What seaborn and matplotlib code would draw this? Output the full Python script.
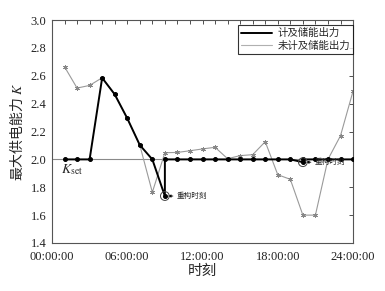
import matplotlib
matplotlib.use("Agg")
import matplotlib.pyplot as plt
from matplotlib.lines import Line2D
import seaborn as sns
import pandas as pd

# ---- data ----
hours_with = [1, 2, 3, 4, 5, 6, 7, 8, 9, 9, 10, 11, 12, 13, 14, 15, 16, 17, 18, 19, 20, 20, 21, 22, 23, 24]
k_with = [2.0, 2.0, 2.0, 2.585, 2.467, 2.295, 2.103, 2.0, 1.737, 2.0, 2.0, 2.0, 2.0, 2.0, 2.0,
          2.0, 2.0, 2.0, 2.0, 2.0, 1.98, 2.0, 2.0, 2.0, 2.0, 2.0]
hours_without = [1, 2, 3, 4, 5, 6, 7, 8, 9, 10, 11, 12, 13, 14, 15, 16, 17, 18, 19, 20, 21, 22, 23, 24]
k_without = [2.665, 2.512, 2.531, 2.586, 2.467, 2.295, 2.103, 1.764, 2.048, 2.05, 2.062, 2.075,
             2.087, 2.005, 2.027, 2.034, 2.127, 1.89, 1.857, 1.60, 1.60, 2.0, 2.17, 2.49]
k_set = 2.0
reconfig_hours = [9, 20]
reconfig_k = [1.737, 1.98]
xtick_hours = [0, 6, 12, 18, 24]
xtick_labels = ["00:00:00", "06:00:00", "12:00:00", "18:00:00", "24:00:00"]
legend_labels = ["计及储能出力", "未计及储能出力"]

sns.set_theme(style="white")
plt.rcParams['font.family'] = ['Liberation Serif', 'Noto Sans CJK SC', 'DejaVu Sans']
plt.rcParams['mathtext.fontset'] = 'stix'

fig = plt.figure(figsize=(3.85, 2.91), dpi=100)
ax = fig.add_axes([0.135, 0.165, 0.782, 0.766])

df_with = pd.DataFrame({"h": hours_with, "k": k_with})
df_without = pd.DataFrame({"h": hours_without, "k": k_without})
df_rc = pd.DataFrame({"h": reconfig_hours, "k": reconfig_k})

# K_set reference line
ax.axhline(k_set, color="#8a8a8a", lw=0.8, zorder=1)

sns.lineplot(data=df_without, x="h", y="k", ax=ax, estimator=None, sort=False,
             color="#9a9a9a", lw=0.8, marker=(6, 2, 0), markersize=3.5,
             markeredgecolor="#888888", markeredgewidth=0.6, zorder=2)
sns.lineplot(data=df_with, x="h", y="k", ax=ax, estimator=None, sort=False,
             color="black", lw=1.4, marker="o", markersize=2.8,
             markeredgecolor="black", zorder=3)
sns.scatterplot(data=df_rc, x="h", y="k", ax=ax, s=40, facecolor="none",
                edgecolor="#444444", linewidth=0.7, zorder=4)

for h, k in zip(reconfig_hours, reconfig_k):
    ax.annotate("重构时刻", xy=(h + 0.25, k), xytext=(h + 0.9, k),
                fontsize=5.5, va="center", ha="left",
                arrowprops=dict(arrowstyle="-|>", color="black", lw=0.6,
                                mutation_scale=4, shrinkA=0, shrinkB=0))

ax.text(0.75, 1.925, r"$K_{\mathrm{set}}$", fontsize=10, va="center", ha="left")

ax.set_xlim(0, 24)
ax.set_ylim(1.4, 3.0)
ax.set_xticks(range(0, 25))
ax.set_xticklabels([xtick_labels[xtick_hours.index(h)] if h in xtick_hours else "" for h in range(0, 25)])
ax.set_yticks([1.4, 1.6, 1.8, 2.0, 2.2, 2.4, 2.6, 2.8, 3.0])
ax.set_yticklabels(["1.4", "1.6", "1.8", "2.0", "2.2", "2.4", "2.6", "2.8", "3.0"])
ax.tick_params(direction="in", length=3, width=0.6, top=True, right=True,
               labelsize=9, pad=4, colors="#333333", labelcolor="#222222")
ax.tick_params(axis="x", pad=6)
for s in ax.spines.values():
    s.set_color("#555555")
    s.set_linewidth(0.8)

ax.set_xlabel("时刻", fontsize=10.5, labelpad=1)
ax.set_ylabel("最大供电能力 $K$", fontsize=10, labelpad=4,
              family=['Noto Sans CJK SC', 'Liberation Serif'])

handles = [Line2D([], [], color="black", lw=1.4), Line2D([], [], color="#b0b0b0", lw=0.8)]
leg = ax.legend(handles, legend_labels, loc="upper right", fontsize=7.5,
                frameon=True, fancybox=False, borderaxespad=0.0,
                handlelength=3.0, borderpad=0.3, labelspacing=0.2, handletextpad=0.5,
                bbox_to_anchor=(1.0, 1 - 5 / 223))
leg.get_frame().set_edgecolor("black")
leg.get_frame().set_linewidth(0.8)

fig.savefig("out.png", dpi=100)
